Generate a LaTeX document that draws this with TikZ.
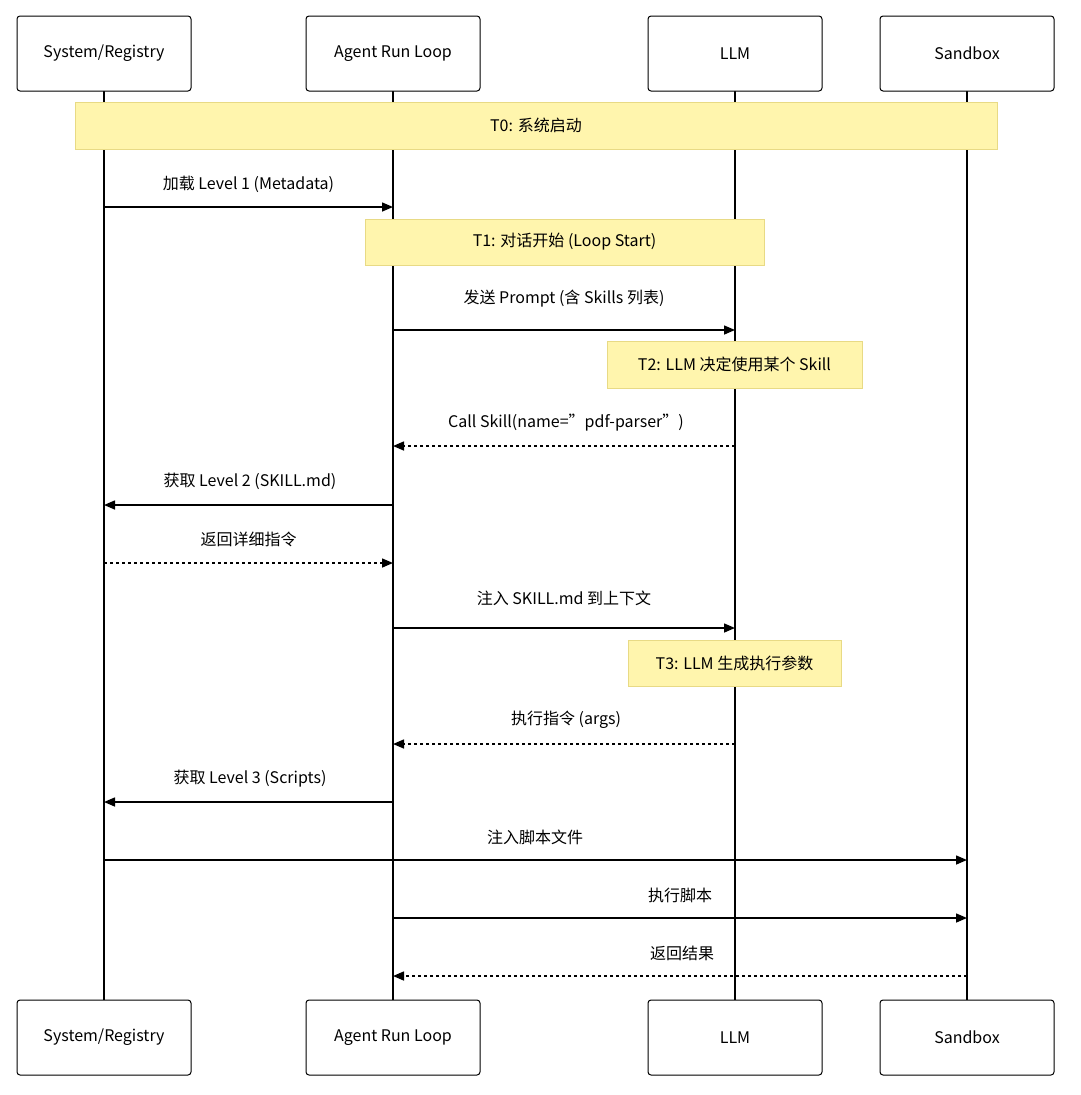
\documentclass[tikz,border=0pt]{standalone}
\usepackage{fontspec}
\setmainfont{Noto Sans CJK SC}
\usetikzlibrary{arrows.meta}
\definecolor{notefill}{HTML}{FFF5AD}
\definecolor{notedraw}{HTML}{E8DA85}
\begin{document}
\begin{tikzpicture}[x=1pt,y=-1pt,
  actor/.style={draw=black,line width=1pt,rounded corners=3pt,minimum width=174pt,minimum height=75pt,fill=white,font=\fontsize{16}{19}\selectfont},
  note/.style={draw=notedraw,fill=notefill,line width=0.8pt,font=\fontsize{16}{19}\selectfont,inner sep=0pt},
  life/.style={line width=2pt},
  msg/.style={line width=1.5pt,-{Triangle[length=11pt,width=9pt]}},
  ret/.style={msg,dash pattern=on 3pt off 3pt},
  lbl/.style={font=\fontsize{16}{19}\selectfont}]
\useasboundingbox (0,0) rectangle (1080,1095);
\foreach \n/\x/\t in {a/104/System\slash Registry,b/393/Agent Run Loop,c/735/LLM,d/967/Sandbox}{
  \coordinate (\n) at (\x,0);
  \draw[life] (\x,91) -- (\x,1000);
  \node[actor] (\n top) at (\x,53.5) {\t};
  \node[actor] (\n bot) at (\x,1037.5) {\t};
}
\node[note,minimum width=922pt,minimum height=47pt] (t0) at (536,125.5) {T0: 系统启动};
\node[note,minimum width=399pt,minimum height=46pt] (t1) at (564.5,242) {T1: 对话开始 (Loop Start)};
\node[note,minimum width=255pt,minimum height=47pt] (t2) at (734.5,364.5) {T2: LLM 决定使用某个 Skill};
\node[note,minimum width=213pt,minimum height=46pt] (t3) at (734.5,663) {T3: LLM 生成执行参数};
\draw[msg] (a |- 0,207) -- (b |- 0,207);
\node[lbl] (m1) at (248.5,184) {加载 Level 1 (Metadata)};
\draw[msg] (b |- 0,330) -- (c |- 0,330);
\node[lbl] (m2) at (564,299) {发送 Prompt (含 Skills 列表)};
\draw[ret] (c |- 0,446) -- (b |- 0,446);
\node[lbl] (m3) at (566,423) {Call Skill(name="pdf-parser")};
\draw[msg] (b |- 0,505) -- (a |- 0,505);
\node[lbl] (m4) at (250,481) {获取 Level 2 (SKILL.md)};
\draw[ret] (a |- 0,563) -- (b |- 0,563);
\node[lbl] (m5) at (248.5,539) {返回详细指令};
\draw[msg] (b |- 0,628) -- (c |- 0,628);
\node[lbl] (m6) at (564,598) {注入 SKILL.md 到上下文};
\draw[ret] (c |- 0,744) -- (b |- 0,744);
\node[lbl] (m7) at (566,720) {执行指令 (args)};
\draw[msg] (b |- 0,802) -- (a |- 0,802);
\node[lbl] (m8) at (250,779) {获取 Level 3 (Scripts)};
\draw[msg] (a |- 0,860) -- (d |- 0,860);
\node[lbl] (m9) at (535,837) {注入脚本文件};
\draw[msg] (b |- 0,918) -- (d |- 0,918);
\node[lbl] (m10) at (680,895) {执行脚本};
\draw[ret] (d |- 0,976) -- (b |- 0,976);
\node[lbl] (m11) at (682,953) {返回结果};
\end{tikzpicture}
\end{document}
